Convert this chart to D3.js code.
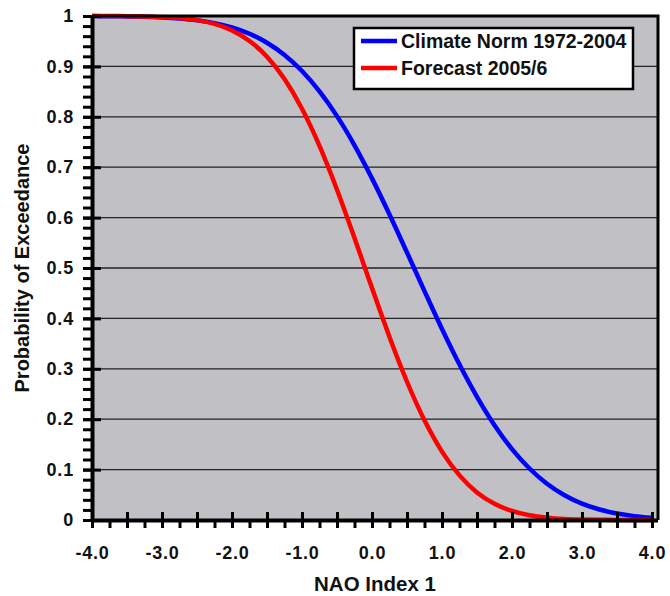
<!DOCTYPE html>
<html>
<head>
<meta charset="utf-8">
<script src="https://cdn.jsdelivr.net/npm/d3@7"></script>
<style>
  body { margin: 0; background: #fff; }
  text { font-family: "Liberation Sans", Arial, Helvetica, sans-serif; font-weight: bold; fill: #111; }
</style>
</head>
<body>
<script>
const nao = [-4, -3.75, -3.5, -3.25, -3, -2.75, -2.5, -2.25, -2, -1.75, -1.5, -1.25, -1, -0.75, -0.5, -0.25,
             0, 0.25, 0.5, 0.75, 1, 1.25, 1.5, 1.75, 2, 2.25, 2.5, 2.75, 3, 3.25, 3.5, 3.75, 4]
const climateNorm = [0.9998, 0.9996, 0.9992, 0.9985, 0.9972, 0.9950, 0.9915, 0.9858, 0.9772, 0.9647, 0.9469,
                     0.9226, 0.8908, 0.8504, 0.8013, 0.7435, 0.6778, 0.6061, 0.5307, 0.4542, 0.3791, 0.3085,
                     0.2444, 0.1881, 0.1407, 0.1022, 0.0719, 0.0491, 0.0324, 0.0208, 0.0128, 0.0077, 0.0045]
const forecast = [1.0000, 0.9999, 0.9997, 0.9992, 0.9981, 0.9960, 0.9918, 0.9842, 0.9713, 0.9505, 0.9192,
                  0.8749, 0.8159, 0.7422, 0.6554, 0.5596, 0.4602, 0.3632, 0.2743, 0.1977, 0.1357, 0.0885,
                  0.0548, 0.0322, 0.0179, 0.0094, 0.0047, 0.0022, 0.0010, 0.0004, 0.0002, 0.0001, 0.0000]
const seriesNames = ['Climate Norm 1972-2004', 'Forecast 2005/6']
const seriesColors = ['#0000ff', '#ff0000']
const xMajor = [-4, -3.5, -3, -2.5, -2, -1.5, -1, -0.5, 0, 0.5, 1, 1.5, 2, 2.5, 3, 3.5, 4]
const xLabels = ['-4.0', '-3.0', '-2.0', '-1.0', '0.0', '1.0', '2.0', '3.0', '4.0']
const yMajor = [0, 0.1, 0.2, 0.3, 0.4, 0.5, 0.6, 0.7, 0.8, 0.9, 1]
const yLabels = ['0', '0.1', '0.2', '0.3', '0.4', '0.5', '0.6', '0.7', '0.8', '0.9', '1']

function draw () {
    const width = 670, height = 596
    const left = 92, right = 658, top = 16, bottom = 520

    const svg = d3.select('body').append('svg')
        .attr('width', width)
        .attr('height', height)

    const X = d3.scaleLinear().domain([-4, 4]).range([left, 652])
    const Y = d3.scaleLinear().domain([0, 1]).range([bottom, top])

    // plot background
    svg.append('rect')
        .attr('x', left).attr('y', top)
        .attr('width', right - left).attr('height', bottom - top)
        .attr('fill', '#c1c0c5')

    // horizontal grid
    svg.append('g')
        .selectAll('line')
        .data(yMajor.slice(1))
        .join('line')
        .attr('x1', left).attr('x2', right)
        .attr('y1', d => Y(d)).attr('y2', d => Y(d))
        .attr('stroke', '#222')
        .attr('stroke-width', 1.3)

    const rows = nao.map((x, i) => ({ x, c: climateNorm[i], f: forecast[i] }))
    const line = key => d3.line()
        .x(d => X(d.x))
        .y(d => Y(d[key]))
        .curve(d3.curveMonotoneX)

    ;['c', 'f'].forEach((key, i) => {
        svg.append('path')
            .attr('d', line(key)(rows))
            .attr('fill', 'none')
            .attr('stroke', seriesColors[i])
            .attr('stroke-width', 4.5)
    })

    // frame top / right
    svg.append('path')
        .attr('d', `M${left},${top}H${right}V${bottom}`)
        .attr('fill', 'none')
        .attr('stroke', '#000')
        .attr('stroke-width', 3)

    // y axis: minor outward ticks, major crossing ticks, labels
    const yMinor = d3.range(0, 51).map(i => i / 50)
    svg.append('g')
        .attr('transform', `translate(${left},0)`)
        .call(d3.axisLeft(Y).tickValues(yMinor).tickSize(9).tickSizeOuter(0).tickFormat(''))
        .call(g => g.selectAll('.tick line').attr('stroke', '#000').attr('stroke-width', 3))
        .call(g => g.select('.domain').attr('stroke', '#000').attr('stroke-width', 4))

    svg.append('g')
        .attr('transform', `translate(${left},0)`)
        .call(d3.axisLeft(Y).tickValues(yMajor).tickSize(9).tickSizeOuter(0).tickPadding(9)
            .tickFormat((d, i) => yLabels[i]))
        .call(g => g.select('.domain').remove())
        .call(g => g.selectAll('.tick line').clone().attr('x2', 9))
        .call(g => g.selectAll('.tick line').attr('stroke', '#000').attr('stroke-width', 3))
        .call(g => g.selectAll('.tick text').attr('font-size', 18).attr('letter-spacing', 0.8))

    // x axis
    const xMinor = d3.range(0, 33).map(i => -4 + i * 0.25)
    svg.append('g')
        .attr('transform', `translate(0,${bottom})`)
        .call(d3.axisBottom(X).tickValues(xMinor).tickSize(8).tickSizeOuter(0).tickFormat(''))
        .call(g => g.selectAll('.tick line').attr('stroke', '#000').attr('stroke-width', 3))
        .call(g => g.select('.domain').attr('stroke', '#000').attr('stroke-width', 4)
            .attr('d', `M${left},0.5H${right}`))

    svg.append('g')
        .attr('transform', `translate(0,${bottom})`)
        .call(d3.axisBottom(X).tickValues(xMajor).tickSize(8).tickSizeOuter(0).tickPadding(18)
            .tickFormat(d => Number.isInteger(d) ? xLabels[d + 4] : ''))
        .call(g => g.select('.domain').remove())
        .call(g => g.selectAll('.tick line').clone().attr('y2', -8))
        .call(g => g.selectAll('.tick line').attr('stroke', '#000').attr('stroke-width', 3))
        .call(g => g.selectAll('.tick text').attr('font-size', 18).attr('letter-spacing', 0.8))

    // axis titles
    svg.append('text')
        .attr('x', (left + right) / 2)
        .attr('y', 591)
        .attr('text-anchor', 'middle')
        .attr('font-size', 20.5)
        .text('NAO Index 1')

    svg.append('text')
        .attr('transform', `translate(29,${(top + bottom) / 2}) rotate(-90)`)
        .attr('text-anchor', 'middle')
        .attr('font-size', 20)
        .text('Probability of Exceedance')

    // legend
    const legend = svg.append('g').attr('transform', 'translate(354,28)')
    legend.append('rect')
        .attr('width', 279).attr('height', 61)
        .attr('fill', '#fff')
        .attr('stroke', '#000')
        .attr('stroke-width', 2.5)
    seriesNames.forEach((name, i) => {
        legend.append('line')
            .attr('x1', 7).attr('x2', 43)
            .attr('y1', 13 + i * 27).attr('y2', 13 + i * 27)
            .attr('stroke', seriesColors[i])
            .attr('stroke-width', 4.5)
        legend.append('text')
            .attr('x', 47)
            .attr('y', 20 + i * 27)
            .attr('font-size', 19.5)
            .text(name)
    })
}

draw()
</script>
</body>
</html>
